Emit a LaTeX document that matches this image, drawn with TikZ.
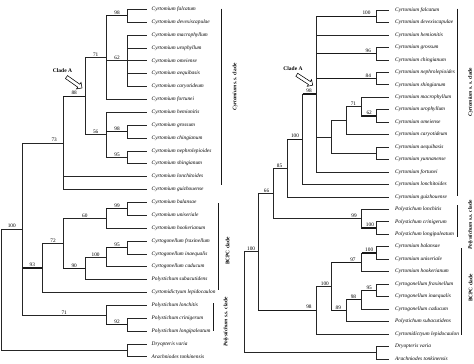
\documentclass[tikz,border=0pt]{standalone}
\usepackage{fontspec}
\setmainfont{Liberation Serif}
\usetikzlibrary{shapes.arrows}
\tikzset{
 br/.style={draw=black!85, line width=0.65pt},
 hb/.style={line width=1.25pt, draw=black!90},
 leafL/.style={anchor=west, inner xsep=4.5pt, inner ysep=0pt, font=\fontsize{5.35}{6}\selectfont\itshape, text height=3.6pt, text depth=1.1pt},
 leafR/.style={leafL, inner xsep=6.5pt},
 bs/.style={above, inner sep=0.6pt, font=\fontsize{5.3}{6}\selectfont},
 side/.style={rotate=90, font=\fontsize{5.35}{6}\selectfont\bfseries, inner sep=0pt},
 bar/.style={line width=1pt, draw=black!90},
 cladeA/.style={font=\fontsize{5.5}{6}\selectfont\bfseries, inner sep=0pt},
 arr/.style={single arrow, draw=black, line width=0.55pt, fill=white, minimum height=19pt, inner sep=1.5pt, single arrow head extend=2.2pt},
}
\newcommand\phyedge[5][]{\draw[br] (#2) |- (#3); \draw[br,#1] (#2 |- #3) -- node[bs,pos=#5]{#4} (#3);}
\newcommand\lf[2]{\draw[br] (#1) |- (#2.west);}
\begin{document}
\begin{tikzpicture}[x=1pt,y=-1pt]
\useasboundingbox (0,0) rectangle (474,364);
% ---------------- left tree ----------------
\foreach \n [count=\i from 0] in {Cyrtomium falcatum, Cyrtomium devexiscapulae, Cyrtomium macrophyllum, Cyrtomium urophyllum, Cyrtomium omeiense, Cyrtomium aequibasis, Cyrtomium caryotideum, Cyrtomium fortunei, Cyrtomium hemionitis, Cyrtomium grossum, Cyrtomium chingianum, Cyrtomium nephrolepioides, Cyrtomium shingianum, Cyrtomium lonchitoides, Cyrtomium guizhouense, Cyrtomium balansae, Cyrtomium uniseriale, Cyrtomium hookerianum, Cyrtogonellum fraxinellum, Cyrtogonellum inaequalis, Cyrtogonellum caducum, Polystichum subacutidens, Cyrtomidictyum lepidocaulon, Polystichum lonchitis, Polystichum crinigerum, Polystichum longipaleatum, Dryopteris varia, Arachniodes tonkinensis}
  \node[leafL] (a\i) at (147,{9.3+12.87*\i}) {\n};
\coordinate (root) at (1.5,289.6);
\coordinate (n100L) at (22,228.9);
\coordinate (nout) at (127.7,350.36);
\coordinate (n73) at (63.3,142.83);
\coordinate (n93) at (42.7,267.91);
\coordinate (n71b) at (106.3,314.97);
\coordinate (n88) at (85,96.18);
\coordinate (n71) at (106.3,57.57);
\coordinate (n56) at (106.3,134.79);
\coordinate (n98a) at (127.7,15.74);
\coordinate (n62) at (127.7,60.78);
\coordinate (n98b) at (127.7,131.57);
\coordinate (n95a) at (127.7,157.31);
\coordinate (n72) at (63.3,243.38);
\coordinate (n60) at (106.3,218.44);
\coordinate (n90) at (85,268.31);
\coordinate (n99a) at (127.7,208.79);
\coordinate (n100a) at (106.3,257.05);
\coordinate (n95b) at (127.7,247.40);
\coordinate (n92) at (127.7,324.62);
\phyedge{root}{n100L}{100}{0.5}
\draw[br] (root) |- (nout);
\lf{nout}{a26} \lf{nout}{a27}
\phyedge{n100L}{n73}{73}{0.78}
\phyedge[hb]{n100L}{n93}{93}{0.5}
\phyedge{n100L}{n71b}{71}{0.5}
\phyedge[hb]{n73}{n88}{88}{0.5}
\lf{n73}{a13} \lf{n73}{a14}
\phyedge{n88}{n71}{71}{0.5}
\phyedge{n88}{n56}{56}{0.5}
\phyedge[hb]{n71}{n98a}{98}{0.5}
\phyedge{n71}{n62}{62}{0.5}
\lf{n71}{a7}
\lf{n98a}{a0} \lf{n98a}{a1}
\foreach \i in {2,...,6} {\lf{n62}{a\i}}
\lf{n56}{a8}
\phyedge[hb]{n56}{n98b}{98}{0.5}
\phyedge{n56}{n95a}{95}{0.5}
\lf{n98b}{a9} \lf{n98b}{a10}
\lf{n95a}{a11} \lf{n95a}{a12}
\phyedge{n93}{n72}{72}{0.5}
\lf{n93}{a22}
\phyedge{n72}{n60}{60}{0.5}
\phyedge[hb]{n72}{n90}{90}{0.5}
\phyedge[hb]{n60}{n99a}{99}{0.5}
\lf{n60}{a17}
\lf{n99a}{a15} \lf{n99a}{a16}
\phyedge{n90}{n100a}{100}{0.5}
\lf{n90}{a21}
\phyedge[hb]{n100a}{n95b}{95}{0.5}
\lf{n100a}{a20}
\lf{n95b}{a18} \lf{n95b}{a19}
\lf{n71b}{a23}
\phyedge[hb]{n71b}{n92}{92}{0.5}
\lf{n92}{a24} \lf{n92}{a25}
\draw[line width=1.7pt, draw=black!85] (root |- n100L) -- (root |- nout);
% side bars left
\coordinate (bl1) at (221.7,8.5); \coordinate (bl2) at (221.7,185);
\draw[bar] (bl1) -- (bl2);
\node[side] (tl1) at (235,87) {\textit{Cyrtomium} s.s. clade};
\coordinate (bl3) at (218.3,203); \coordinate (bl4) at (218.3,290);
\draw[bar] (bl3) -- (bl4);
\node[side] (tl2) at (227.5,251) {BCPC clade};
\coordinate (bl5) at (213.3,303); \coordinate (bl6) at (213.3,331);
\draw[bar] (bl5) -- (bl6);
\node[side] (tl3) at (226,322) {\textit{Polystichum} s.s. clade};
% clade A left
\node[cladeA] (cal) at (62.5,70.7) {Clade A};
\node[arr, rotate=-35] (arl) at (73.5,82) {};
% ---------------- right tree ----------------
\foreach \n [count=\i from 0] in {Cyrtomium falcatum, Cyrtomium devexiscapulae, Cyrtomium hemionitis, Cyrtomium grossum, Cyrtomium chingianum, Cyrtomium nephrolepioides, Cyrtomium shingianum, Cyrtomium macrophyllum, Cyrtomium urophyllum, Cyrtomium omeiense, Cyrtomium caryotideum, Cyrtomium aequibasis, Cyrtomium yunnanense, Cyrtomium fortunei, Cyrtomium lonchitoides, Cyrtomium guizhouense, Polystichum lonchitis, Polystichum crinigerum, Polystichum longipaleatum, Cyrtomium balansae, Cyrtomium uniseriale, Cyrtomium hookerianum, Cyrtogonellum fraxinellum, Cyrtogonellum inaequalis, Cyrtogonellum caducum, Polystichum subacutidens, Cyrtomidictyum lepidocaulon, Dryopteris varia, Arachniodes tonkinensis}
  \node[leafR] (b\i) at (388.5,{10+12.46*\i}) {\n};
\coordinate (rroot) at (244,302.2);
\coordinate (r100f) at (258.3,251.8);
\coordinate (rout) at (376.7,352.65);
\coordinate (r66) at (273.3,193.4);
\coordinate (r98B) at (316.7,310.21);
\coordinate (r85) at (287.3,168.09);
\coordinate (r99) at (361.7,218.7);
\coordinate (r100c) at (376.7,228.05);
\coordinate (r100b) at (302.7,139.27);
\coordinate (rA98) at (316.7,94.1);
\coordinate (r100a) at (376.7,16.23);
\coordinate (r96) at (376.7,53.61);
\coordinate (r84) at (376.7,78.53);
\coordinate (rN2) at (331.5,136.94);
\coordinate (rN1) at (346.7,120.58);
\coordinate (rAY) at (376.7,153.29);
\coordinate (r71) at (361.7,106.57);
\coordinate (r62) at (376.7,115.91);
\coordinate (r100e) at (331.5,286.46);
\coordinate (r97) at (361.7,262.32);
\coordinate (r100d) at (376.7,252.97);
\coordinate (r89) at (346.7,310.6);
\coordinate (r98i) at (361.7,299.7);
\coordinate (r95) at (376.7,290.35);
\phyedge{rroot}{r100f}{100}{0.5}
\draw[br] (rroot) |- (rout);
\lf{rout}{b27} \lf{rout}{b28}
\phyedge{r100f}{r66}{66}{0.55}
\phyedge[hb]{r100f}{r98B}{98}{0.868}
\phyedge{r66}{r85}{85}{0.45}
\phyedge{r66}{r99}{99}{0.913}
\lf{r99}{b16}
\phyedge[hb]{r99}{r100c}{100}{0.55}
\lf{r100c}{b17} \lf{r100c}{b18}
\phyedge[hb]{r85}{r100b}{100}{0.5}
\lf{r85}{b15}
\phyedge[hb]{r100b}{rA98}{98}{0.45}
\lf{r100b}{b14}
\phyedge[hb]{rA98}{r100a}{100}{0.83}
\lf{rA98}{b2}
\phyedge[hb]{rA98}{r96}{96}{0.86}
\phyedge[hb]{rA98}{r84}{84}{0.86}
\draw[br] (rA98) |- (rN2);
\lf{rA98}{b13}
\lf{r100a}{b0} \lf{r100a}{b1}
\lf{r96}{b3} \lf{r96}{b4}
\lf{r84}{b5} \lf{r84}{b6}
\draw[br] (rN2) |- (rN1);
\draw[br] (rN2) |- (rAY);
\phyedge{rN1}{r71}{71}{0.45}
\lf{rN1}{b10}
\lf{r71}{b7}
\phyedge[hb]{r71}{r62}{62}{0.5}
\lf{r62}{b8} \lf{r62}{b9}
\lf{rAY}{b11} \lf{rAY}{b12}
\phyedge{r98B}{r100e}{100}{0.55}
\lf{r98B}{b26}
\phyedge[hb]{r100e}{r97}{97}{0.71}
\phyedge[hb]{r100e}{r89}{89}{0.45}
\phyedge[hb]{r97}{r100d}{100}{0.5}
\lf{r97}{b21}
\lf{r100d}{b19} \lf{r100d}{b20}
\phyedge[hb]{r89}{r98i}{98}{0.45}
\lf{r89}{b25}
\phyedge[hb]{r98i}{r95}{95}{0.5}
\lf{r98i}{b24}
\lf{r95}{b22} \lf{r95}{b23}
% side bars right
\coordinate (br1) at (457,8.5); \coordinate (br2) at (457,196);
\draw[bar] (br1) -- (br2);
\node[side] (tr1) at (470.5,92) {\textit{Cyrtomium} s. s. clade};
\coordinate (br3) at (457,205); \coordinate (br4) at (457,237);
\draw[bar] (br3) -- (br4);
\node[side] (tr2) at (470.5,225) {\textit{Polystichum} s.s. clade};
\coordinate (br5) at (461.7,248); \coordinate (br6) at (461.7,335);
\draw[bar] (br5) -- (br6);
\node[side] (tr3) at (470.5,288) {BCPC clade};
% clade A right
\node[cladeA] (car) at (293,68.3) {Clade A};
\node[arr, rotate=-33] (arr) at (304,79.5) {};
\end{tikzpicture}
\end{document}
